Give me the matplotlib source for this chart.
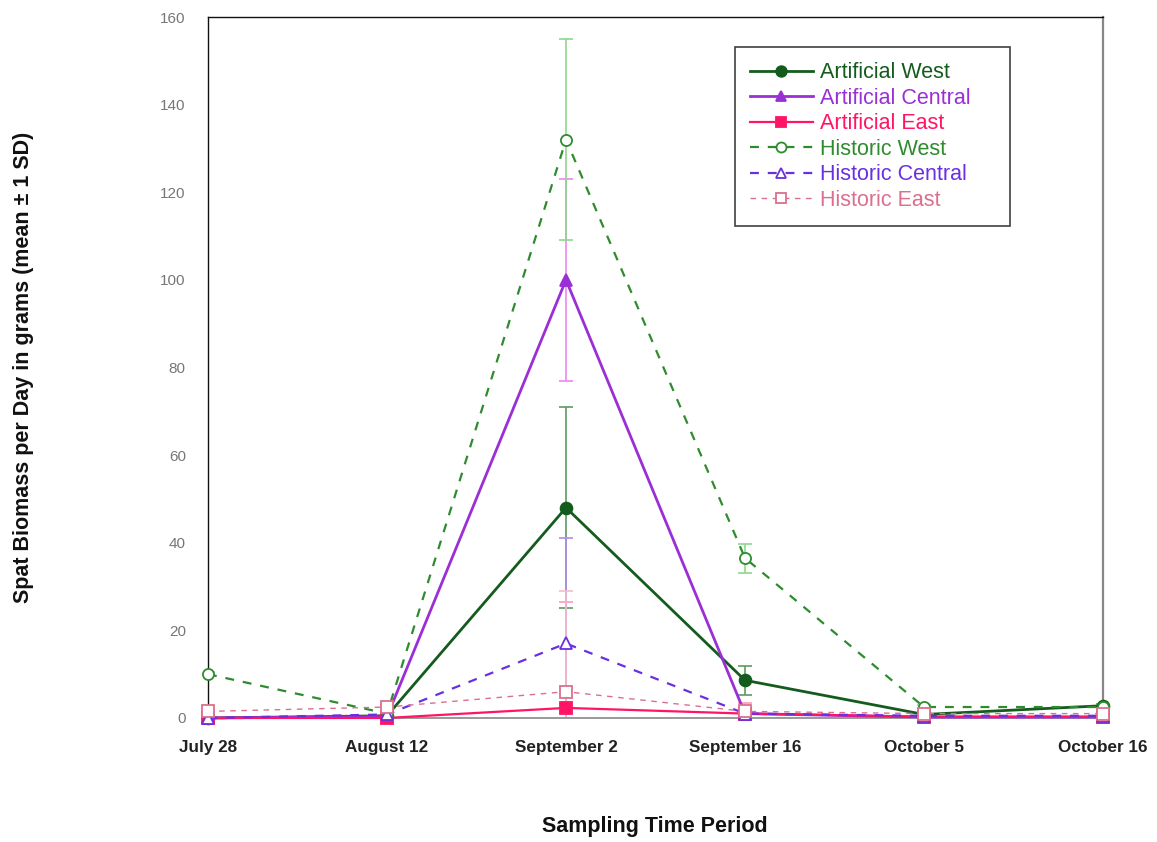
import numpy as np
import matplotlib.pyplot as plt

plt.rcParams['font.family'] = ['Liberation Sans', 'DejaVu Sans']

periods = ['July 28', 'August 12', 'September 2', 'September 16', 'October 5', 'October 16']

# means (grams per day)
art_west = [0.0, 0.5, 48.0, 8.6, 0.8, 2.8]
art_central = [0.0, 0.3, 100.0, 1.0, 0.2, 0.2]
art_east = [0.0, 0.0, 2.3, 1.0, 0.3, 0.3]
hist_west = [10.0, 1.0, 132.0, 36.5, 2.5, 2.5]
hist_central = [0.0, 0.8, 17.0, 1.0, 0.5, 0.5]
hist_east = [1.5, 2.5, 6.0, 1.5, 1.0, 1.0]

# standard deviations
art_west_sd = [0.0, 0.3, 23.0, 3.3, 0.3, 0.5]
art_central_sd = [0.0, 0.2, 23.0, 0.5, 0.1, 0.1]
art_east_sd = [0.0, 0.0, 24.2, 2.4, 0.2, 0.2]
hist_west_sd = [0.5, 0.5, 23.0, 3.3, 0.5, 0.5]
hist_central_sd = [0.0, 0.3, 24.0, 0.5, 0.2, 0.2]
hist_east_sd = [0.3, 0.5, 23.0, 0.5, 0.2, 0.2]

series = [
    ('Artificial West', art_west, art_west_sd, '#145c1e', '#5e9a62', '-', 'o', True, 2.0, 8.5),
    ('Artificial Central', art_central, art_central_sd, '#9b2fd6', '#ee88ee', '-', '^', True, 2.0, 8.5),
    ('Artificial East', art_east, art_east_sd, '#ff1466', '#ff9ab8', '-', 's', True, 1.6, 8),
    ('Historic West', hist_west, hist_west_sd, '#2e8b2e', '#8fd68f', '--', 'o', False, 1.6, 8),
    ('Historic Central', hist_central, hist_central_sd, '#6a2fe0', '#b08cf0', '--', '^', False, 1.6, 8),
    ('Historic East', hist_east, hist_east_sd, '#dc6f8f', '#f5bccb', '--', 's', False, 1.0, 8),
]

fig = plt.figure(figsize=(11.57, 8.42), dpi=100)
ax = fig.add_axes([0.1798, 0.1473, 0.7735, 0.8325])
x = np.arange(len(periods))

for label, vals, sd, col, ecol, ls, mk, filled, lw, ms in series:
    ax.errorbar(x, vals, yerr=sd, fmt='none', ecolor=ecol, elinewidth=1.2,
                capsize=5, capthick=1.2, zorder=2)
    ax.plot(x, vals, linestyle=ls, color=col, linewidth=lw, marker=mk,
            markersize=ms, markerfacecolor=col if filled else 'white',
            markeredgecolor=col, markeredgewidth=1.3, label=label,
            clip_on=False, zorder=3, dashes=(4, 4) if ls == '--' else (None, None))

ax.set_xlim(0, 5)
ax.set_ylim(0, 160)
ax.set_yticks(np.arange(0, 161, 20))
ax.set_xticks(x)
ax.set_xticklabels(periods, fontsize=12.3, fontweight='bold', color='#222222')
ax.tick_params(axis='x', length=0, pad=16)
ax.tick_params(axis='y', length=0, pad=16, labelsize=11, labelcolor='#777777')

for side in ['top', 'left']:
    ax.spines[side].set_color('#111111')
    ax.spines[side].set_linewidth(1.0)
ax.spines['right'].set_color('#888888')
ax.spines['right'].set_linewidth(1.6)
ax.spines['bottom'].set_color('#888888')
ax.spines['bottom'].set_linewidth(1.2)

fig.text(0.02, 0.564, 'Spat Biomass per Day in grams (mean ± 1 SD)', rotation=90,
         ha='center', va='center', fontsize=15.5, fontweight='bold', color='#111111')
fig.text(0.566, 0.019, 'Sampling Time Period', ha='center', va='center',
         fontsize=15.5, fontweight='bold', color='#111111')

leg = ax.legend(loc='upper left', bbox_to_anchor=(0.589, 0.957, 0.307, 0.0),
                mode='expand', fontsize=15.5,
                frameon=True, fancybox=False, handlelength=2.9, handletextpad=0.33,
                labelspacing=0.21, borderpad=0.7, borderaxespad=0, markerscale=0.9)
leg.get_frame().set_edgecolor('#111111')
leg.get_frame().set_linewidth(1.2)
for txt, s in zip(leg.get_texts(), series):
    txt.set_color(s[3])

fig.savefig('out.png', dpi=100)
